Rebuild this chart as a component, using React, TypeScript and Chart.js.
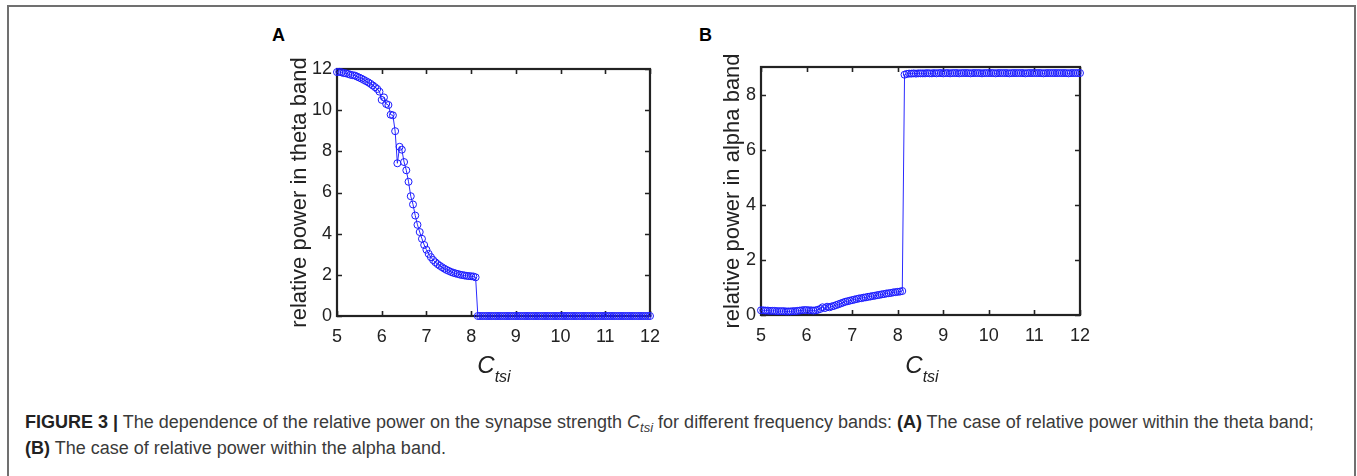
import React, { useEffect, useRef } from "react";
import { Chart, registerables } from "chart.js";

Chart.register(...registerables);

// synapse strength C_tsi (x values)
const cTsi = [
  5.0, 5.05, 5.1, 5.15, 5.2, 5.25, 5.3, 5.35, 5.4, 5.45,
  5.5, 5.55, 5.6, 5.65, 5.7, 5.75, 5.8, 5.85, 5.9, 5.95,
  6.0, 6.05, 6.1, 6.15, 6.2, 6.25, 6.3, 6.35, 6.4, 6.45,
  6.5, 6.55, 6.6, 6.65, 6.7, 6.75, 6.8, 6.85, 6.9, 6.95,
  7.0, 7.05, 7.1, 7.15, 7.2, 7.25, 7.3, 7.35, 7.4, 7.45,
  7.5, 7.55, 7.6, 7.65, 7.7, 7.75, 7.8, 7.85, 7.9, 7.95,
  8.0, 8.05, 8.1, 8.15, 8.2, 8.25, 8.3, 8.35, 8.4, 8.45,
  8.5, 8.55, 8.6, 8.65, 8.7, 8.75, 8.8, 8.85, 8.9, 8.95,
  9.0, 9.05, 9.1, 9.15, 9.2, 9.25, 9.3, 9.35, 9.4, 9.45,
  9.5, 9.55, 9.6, 9.65, 9.7, 9.75, 9.8, 9.85, 9.9, 9.95,
  10.0, 10.05, 10.1, 10.15, 10.2, 10.25, 10.3, 10.35, 10.4, 10.45,
  10.5, 10.55, 10.6, 10.65, 10.7, 10.75, 10.8, 10.85, 10.9, 10.95,
  11.0, 11.05, 11.1, 11.15, 11.2, 11.25, 11.3, 11.35, 11.4, 11.45,
  11.5, 11.55, 11.6, 11.65, 11.7, 11.75, 11.8, 11.85, 11.9, 11.95,
  12.0,
];

// relative power in theta band (panel A)
const thetaPower = [
  11.85, 11.86, 11.84, 11.8, 11.79, 11.76, 11.72, 11.7, 11.68, 11.63,
  11.58, 11.53, 11.47, 11.41, 11.35, 11.28, 11.2, 11.12, 11.03, 10.9,
  10.5, 10.62, 10.3, 10.25, 9.78, 9.75, 8.98, 7.42, 8.22, 8.08,
  7.48, 7.08, 6.52, 5.82, 5.42, 4.88, 4.43, 4.08, 3.75, 3.45,
  3.22, 3.02, 2.86, 2.72, 2.61, 2.52, 2.44, 2.37, 2.3, 2.24,
  2.19, 2.14, 2.1, 2.07, 2.04, 2.01, 1.99, 1.97, 1.95, 1.94,
  1.93, 1.92, 1.88, 0, 0, 0, 0, 0, 0, 0,
  0, 0, 0, 0, 0, 0, 0, 0, 0, 0,
  0, 0, 0, 0, 0, 0, 0, 0, 0, 0,
  0, 0, 0, 0, 0, 0, 0, 0, 0, 0,
  0, 0, 0, 0, 0, 0, 0, 0, 0, 0,
  0, 0, 0, 0, 0, 0, 0, 0, 0, 0,
  0, 0, 0, 0, 0, 0, 0, 0, 0, 0,
  0, 0, 0, 0, 0, 0, 0, 0, 0, 0,
  0,
];

// relative power in alpha band (panel B)
const alphaPower = [
  0.17, 0.17, 0.16, 0.16, 0.15, 0.15, 0.15, 0.14, 0.14, 0.14,
  0.14, 0.13, 0.13, 0.13, 0.14, 0.14, 0.15, 0.16, 0.17, 0.18,
  0.18, 0.17, 0.17, 0.16, 0.17, 0.19, 0.22, 0.28, 0.25, 0.3,
  0.28, 0.31, 0.33, 0.36, 0.39, 0.42, 0.45, 0.48, 0.5, 0.52,
  0.54, 0.56, 0.58, 0.6, 0.61, 0.63, 0.64, 0.66, 0.67, 0.69,
  0.7, 0.72, 0.73, 0.75, 0.76, 0.78, 0.79, 0.8, 0.82, 0.83,
  0.84, 0.85, 0.87, 8.72, 8.75, 8.76, 8.76, 8.77, 8.76, 8.77,
  8.77, 8.77, 8.77, 8.78, 8.77, 8.77, 8.78, 8.77, 8.78, 8.78,
  8.77, 8.78, 8.78, 8.77, 8.78, 8.78, 8.78, 8.77, 8.78, 8.78,
  8.78, 8.78, 8.77, 8.78, 8.78, 8.78, 8.78, 8.77, 8.78, 8.78,
  8.78, 8.78, 8.78, 8.77, 8.78, 8.78, 8.78, 8.78, 8.78, 8.77,
  8.78, 8.78, 8.78, 8.78, 8.78, 8.78, 8.77, 8.78, 8.78, 8.78,
  8.78, 8.78, 8.78, 8.78, 8.77, 8.78, 8.78, 8.78, 8.78, 8.78,
  8.78, 8.78, 8.78, 8.78, 8.78, 8.77, 8.78, 8.78, 8.78, 8.78,
  8.78,
];

const xTicks = [5, 6, 7, 8, 9, 10, 11, 12];
const thetaTicks = [0, 2, 4, 6, 8, 10, 12];
const alphaTicks = [0, 2, 4, 6, 8];
const thetaTitle = "relative power in theta band";
const alphaTitle = "relative power in alpha band";

const FONT = "'Liberation Sans', Arial, Helvetica, sans-serif";
const AXIS_COLOR = "#222222";

const boxPlugin = {
  id: "matlabBox",
  beforeDatasetsDraw(chart: any) {
    const { ctx, chartArea: a, scales } = chart;
    const tl = 5;
    ctx.save();
    ctx.strokeStyle = AXIS_COLOR;
    ctx.lineWidth = 1.6;
    ctx.beginPath();
    scales.x.ticks.forEach((t: any) => {
      const px = Math.round(scales.x.getPixelForValue(t.value)) + 0.5;
      ctx.moveTo(px, a.bottom);
      ctx.lineTo(px, a.bottom - tl);
      ctx.moveTo(px, a.top);
      ctx.lineTo(px, a.top + tl);
    });
    scales.y.ticks.forEach((t: any) => {
      const py = Math.round(scales.y.getPixelForValue(t.value)) + 0.5;
      ctx.moveTo(a.left, py);
      ctx.lineTo(a.left + tl, py);
      ctx.moveTo(a.right, py);
      ctx.lineTo(a.right - tl, py);
    });
    ctx.stroke();
    ctx.lineWidth = 2.2;
    ctx.strokeRect(a.left, a.top, a.right - a.left, a.bottom - a.top);
    ctx.restore();
  },
};

type PanelProps = {
  left: number;
  top: number;
  width: number;
  height: number;
  values: number[];
  yTicks: number[];
  yMax: number;
  yTitle: string;
  axisWidth: number;
  titlePad: number;
  padTop: number;
  padRight: number;
  padBottom: number;
};

function Panel(p: PanelProps) {
  const ref = useRef<HTMLCanvasElement>(null);
  useEffect(() => {
    if (!ref.current) return;
    const chart = new Chart(ref.current, {
      type: "line",
      data: {
        datasets: [
          {
            data: cTsi.map((x, i) => ({ x, y: p.values[i] })),
            borderColor: "#2a2aff",
            borderWidth: 1,
            pointStyle: "circle",
            pointRadius: 3.5,
            pointBorderWidth: 1,
            pointBorderColor: "#1a1aff",
            pointBackgroundColor: "rgba(0,0,0,0)",
            clip: false as any,
            tension: 0,
          } as any,
        ],
      },
      options: {
        animation: false,
        responsive: false,
        devicePixelRatio: 1,
        events: [],
        layout: {
          padding: { left: 0, top: p.padTop, right: p.padRight, bottom: p.padBottom },
        },
        plugins: { legend: { display: false }, tooltip: { enabled: false } },
        scales: {
          x: {
            type: "linear",
            min: 5,
            max: 12,
            grid: { display: false, drawTicks: false },
            border: { display: false },
            ticks: {
              autoSkip: false,
              maxRotation: 0,
              padding: 10,
              color: AXIS_COLOR,
              font: { family: FONT, size: 18 },
            },
            afterBuildTicks: (s: any) => {
              s.ticks = xTicks.map((v) => ({ value: v }));
            },
            afterFit: (s: any) => {
              s.height = 40;
            },
          },
          y: {
            type: "linear",
            min: 0,
            max: p.yMax,
            grid: { display: false, drawTicks: false },
            border: { display: false },
            ticks: {
              padding: 5,
              color: AXIS_COLOR,
              font: { family: FONT, size: 18 },
            },
            afterBuildTicks: (s: any) => {
              s.ticks = p.yTicks.map((v) => ({ value: v }));
            },
            title: {
              display: true,
              text: p.yTitle,
              color: AXIS_COLOR,
              font: { family: FONT, size: 22 },
              padding: { top: p.titlePad, bottom: 0 },
            },
            afterFit: (s: any) => {
              s.width = p.axisWidth;
            },
          },
        },
      } as any,
      plugins: [boxPlugin],
    });
    return () => chart.destroy();
  }, []);
  return (
    <canvas
      ref={ref}
      width={p.width}
      height={p.height}
      style={{ position: "absolute", left: p.left, top: p.top, width: p.width, height: p.height }}
    />
  );
}

function XTitle({ center }: { center: number }) {
  return (
    <div
      style={{
        position: "absolute",
        left: center - 100,
        top: 353,
        width: 200,
        textAlign: "center",
        fontFamily: FONT,
        fontStyle: "italic",
        fontSize: 24,
        lineHeight: "24px",
        color: AXIS_COLOR,
        whiteSpace: "nowrap",
      }}
    >
      C
      <span style={{ fontSize: 16, position: "relative", top: 9 }}>tsi</span>
    </div>
  );
}

export default function App() {
  const label = (text: string, left: number) => (
    <div
      style={{
        position: "absolute",
        left,
        top: 26,
        fontFamily: FONT,
        fontWeight: "bold",
        fontSize: 18,
        lineHeight: "18px",
        color: "#000",
      }}
    >
      {text}
    </div>
  );
  return (
    <div
      style={{
        position: "absolute",
        left: 0,
        top: 0,
        width: 1357,
        height: 476,
        overflow: "hidden",
        background: "#fff",
      }}
    >
      <div
        style={{
          position: "absolute",
          left: 7,
          top: 5,
          width: 1345,
          height: 480,
          borderTop: "2px solid #707070",
          borderLeft: "2px solid #707070",
          borderRight: "2px solid #707070",
        }}
      />
      {label("A", 272)}
      {label("B", 699)}
      <Panel
        left={250}
        top={50}
        width={420}
        height={320}
        values={thetaPower}
        yTicks={thetaTicks}
        yMax={12}
        yTitle={thetaTitle}
        axisWidth={87}
        titlePad={36.8}
        padTop={19}
        padRight={19}
        padBottom={14}
      />
      <Panel
        left={680}
        top={50}
        width={420}
        height={320}
        values={alphaPower}
        yTicks={alphaTicks}
        yMax={9}
        yTitle={alphaTitle}
        axisWidth={81}
        titlePad={39.8}
        padTop={17}
        padRight={19}
        padBottom={15}
      />
      <XTitle center={494} />
      <XTitle center={922} />
      <div
        style={{
          position: "absolute",
          left: 25,
          top: 410,
          width: 1320,
          fontFamily: FONT,
          fontSize: 18,
          lineHeight: "25px",
          color: "#3a3a3a",
          whiteSpace: "nowrap",
        }}
      >
        <b style={{ color: "#222" }}>FIGURE 3 |</b> The dependence of the relative power on the
        synapse strength{" "}
        <i>
          C<span style={{ fontSize: 13, position: "relative", top: 4 }}>tsi</span>
        </i>{" "}
        for different frequency bands: <b style={{ color: "#222" }}>(A)</b> The case of relative
        power within the theta band;
        <br />
        <b style={{ color: "#222" }}>(B)</b> The case of relative power within the alpha band.
      </div>
    </div>
  );
}
